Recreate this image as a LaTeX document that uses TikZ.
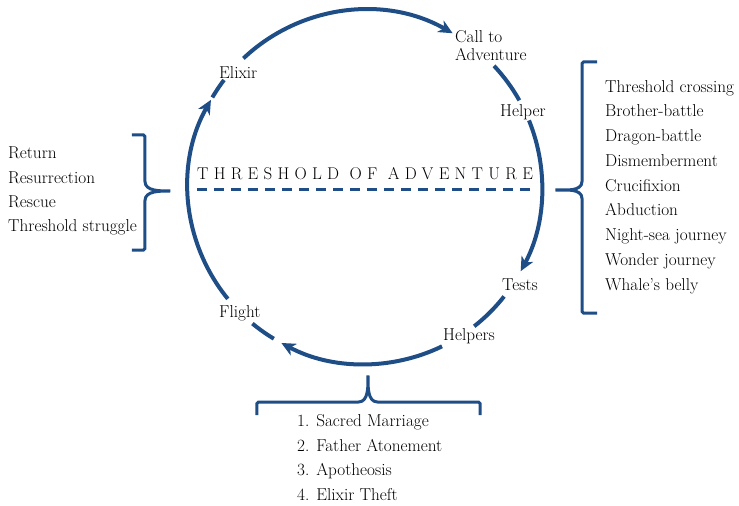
\documentclass[tikz,border=0pt]{standalone}
\usepackage{fontspec}
\usetikzlibrary{arrows.meta}

\newfontfamily\titlefont[LetterSpace=31]{Latin Modern Roman}
\definecolor{heroblue}{RGB}{31,77,134}

\tikzset{
    cycle/.style={heroblue, line width=4pt},
    cycletip/.style={-{Stealth[length=14pt, width=13pt, inset=4pt]}},
    bracket/.style={heroblue, line width=3pt, rounded corners=1.5pt},
    stage/.style={font=\fontsize{17.2}{18}\selectfont, inner sep=0pt, anchor=base west, align=left},
    list/.style={font=\fontsize{17.2}{24.4}\selectfont, inner sep=0pt, anchor=base west, align=left},
}

\begin{document}
\begin{tikzpicture}[x=1pt, y=1pt]
    \def\rad{177}    % radius of the cycle
    \def\thY{-3}     % height of the threshold line
    \def\thX{168}    % half length of the threshold line

    \useasboundingbox (-365,-319) rectangle (374,187);
    \coordinate (c) at (0,0);

    % The cycle, clockwise
    \draw[cycle, cycletip] (c) ++(133.4:\rad) arc[start angle=133.4, end angle=60.3, radius=\rad];
    \draw[cycle] (c) ++(43.2:\rad) arc[start angle=43.2, end angle=29.3, radius=\rad];
    \draw[cycle, cycletip] (c) ++(22.1:\rad) arc[start angle=22.1, end angle=-28.4, radius=\rad];
    \draw[cycle] (c) ++(-38.2:\rad) arc[start angle=-38.2, end angle=-51.9, radius=\rad];
    \draw[cycle, cycletip] (c) ++(-64.2:\rad) arc[start angle=-64.2, end angle=-118.2, radius=\rad];
    \draw[cycle] (c) ++(-121:\rad) arc[start angle=-121, end angle=-129.5, radius=\rad];
    \draw[cycle, cycletip] (c) ++(219.2:\rad) arc[start angle=219.2, end angle=150.5, radius=\rad];
    \draw[cycle] (c) ++(149.6:\rad) arc[start angle=149.6, end angle=142.8, radius=\rad];

    % Threshold
    \coordinate (thl) at (-\thX,\thY);
    \coordinate (thr) at (\thX,\thY);
    \draw[heroblue, line width=3pt, dash pattern=on 10pt off 7pt] (thl) -- (thr);
    \node[inner sep=0pt, anchor=base west, font=\titlefont\fontsize{17}{19}\selectfont] (threshold) at (-168,7) {THRESHOLD OF ADVENTURE};

    % Stages
    \node[stage] (call) at (90,126) {Call to\\Adventure};
    \node[stage] (helper) at (135,70) {Helper};
    \node[stage] (tests) at (137,-103) {Tests};
    \node[stage] (helpers) at (78,-153) {Helpers};
    \node[stage] (flight) at (-146,-130) {Flight};
    \node[stage] (elixir) at (-146,108) {Elixir};

    % Brackets
    \draw[bracket] (-233,52) -- (-220,52) -- (-220,7) to[out=-90, in=180] (-193,-4)
        to[out=180, in=90] (-220,-15) -- (-220,-63) -- (-233,-63);
    \draw[bracket] (232,125) -- (217,125) -- (217,7) to[out=-90, in=0] (189,-3)
        to[out=0, in=90] (217,-13) -- (217,-126) -- (232,-126);
    \draw[bracket] (-108,-228) -- (-108,-215) -- (-8,-215) to[out=0, in=-90] (3,-187)
        to[out=-90, in=180] (14,-215) -- (115,-215) -- (115,-228);

    % Lists
    \node[list] (returnlist) at (-357,-45) {Return\\Resurrection\\Rescue\\Threshold struggle};
    \node[list, font=\fontsize{17.2}{24.75}\selectfont] (initiation) at (240,-103) {Threshold crossing\\Brother-battle\\Dragon-battle\\Dismemberment\\Crucifixion\\Abduction\\Night-sea journey\\Wonder journey\\Whale's belly};
    \node[list] (boons) at (-68,-313) {1. Sacred Marriage\\2. Father Atonement\\3. Apotheosis\\4. Elixir Theft};
\end{tikzpicture}
\end{document}
